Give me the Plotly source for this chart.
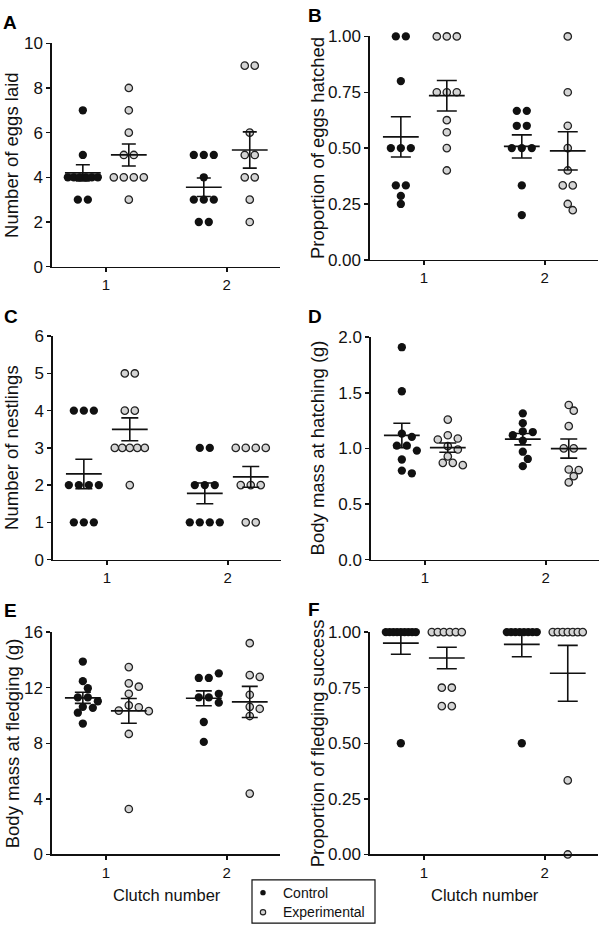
import numpy as np
import plotly.graph_objects as go

W, H = 600, 935

# ---------------- data ----------------
clutch = [1, 2]
xtick_labels = ["1", "2"]

# A: Number of eggs laid
A_ctrl_1 = [7, 5, 4, 4, 4, 4, 4, 4, 3, 3]
A_exp_1 = [8, 7, 6, 5, 5, 4, 4, 4, 4, 3]
A_ctrl_2 = [5, 5, 5, 4, 3, 3, 3, 2, 2]
A_exp_2 = [9, 9, 6, 5, 5, 4, 4, 3, 2]

# B: Proportion of eggs hatched
B_ctrl_1 = [1, 1, 0.8, 0.5, 0.5, 0.5, 0.333, 0.333, 0.286, 0.25]
B_exp_1 = [1, 1, 1, 0.75, 0.75, 0.75, 0.625, 0.571, 0.5, 0.4]
B_ctrl_2 = [0.667, 0.667, 0.6, 0.6, 0.5, 0.5, 0.5, 0.333, 0.2]
B_exp_2 = [1, 0.75, 0.6, 0.5, 0.4, 0.333, 0.333, 0.25, 0.222]

# C: Number of nestlings
C_ctrl_1 = [4, 4, 4, 2, 2, 2, 2, 1, 1, 1]
C_exp_1 = [5, 5, 4, 4, 3, 3, 3, 3, 3, 2]
C_ctrl_2 = [3, 3, 2, 2, 2, 1, 1, 1, 1]
C_exp_2 = [3, 3, 3, 3, 2, 2, 2, 1, 1]

# D: Body mass at hatching (g)
D_ctrl_1 = [1.91, 1.514, 1.133, 1.104, 1.025, 1.025, 0.98, 0.90, 0.80, 0.776]
D_exp_1 = [1.259, 1.118, 1.089, 1.08, 1.02, 0.99, 0.928, 0.87, 0.87, 0.849]
D_ctrl_2 = [1.315, 1.227, 1.153, 1.147, 1.118, 1.07, 0.97, 0.905, 0.84]
D_exp_2 = [1.39, 1.339, 1.2, 1.0, 1.0, 0.81, 0.805, 0.75, 0.694]

# E: Body mass at fledging (g)
E_ctrl_1 = [13.88, 12.47, 11.96, 11.3, 11.3, 11.02, 10.62, 10.55, 10.2, 9.42]
E_exp_1 = [13.48, 12.31, 12.07, 11.56, 10.73, 10.59, 10.35, 10.31, 8.67, 3.27]
E_ctrl_2 = [13.03, 12.7, 12.7, 11.56, 11.3, 11.3, 10.92, 9.53, 8.1]
E_exp_2 = [15.2, 12.9, 12.78, 11.49, 10.62, 10.48, 9.96, 4.38]

# F: Proportion of fledging success
F_ctrl_1 = [1, 1, 1, 1, 1, 1, 1, 1, 1, 0.5]
F_exp_1 = [1, 1, 1, 1, 1, 1, 0.75, 0.75, 0.667, 0.667]
F_ctrl_2 = [1, 1, 1, 1, 1, 1, 1, 1, 0.5]
F_exp_2 = [1, 1, 1, 1, 1, 1, 1, 0.333, 0]

# tick labels
A_ticks = [0, 2, 4, 6, 8, 10]
B_ticks = [0, 0.25, 0.5, 0.75, 1.0]
C_ticks = [0, 1, 2, 3, 4, 5, 6]
D_ticks = [0, 0.5, 1.0, 1.5, 2.0]
E_ticks = [0, 4, 8, 12, 16]
F_ticks = [0, 0.25, 0.5, 0.75, 1.0]

legend_names = ["Control", "Experimental"]

panels = [
    dict(letter="A", title="Number of eggs laid", ticks=A_ticks, fmt="d",
         ctrl=[A_ctrl_1, A_ctrl_2], exp=[A_exp_1, A_exp_2]),
    dict(letter="B", title="Proportion of eggs hatched", ticks=B_ticks, fmt=".2f",
         ctrl=[B_ctrl_1, B_ctrl_2], exp=[B_exp_1, B_exp_2]),
    dict(letter="C", title="Number of nestlings", ticks=C_ticks, fmt="d",
         ctrl=[C_ctrl_1, C_ctrl_2], exp=[C_exp_1, C_exp_2]),
    dict(letter="D", title="Body mass at hatching (g)", ticks=D_ticks, fmt=".1f",
         ctrl=[D_ctrl_1, D_ctrl_2], exp=[D_exp_1, D_exp_2]),
    dict(letter="E", title="Body mass at fledging (g)", ticks=E_ticks, fmt="d",
         ctrl=[E_ctrl_1, E_ctrl_2], exp=[E_exp_1, E_exp_2]),
    dict(letter="F", title="Proportion of fledging success", ticks=F_ticks, fmt=".2f",
         ctrl=[F_ctrl_1, F_ctrl_2], exp=[F_exp_1, F_exp_2]),
]

# ---------------- layout geometry (pixels) ----------------
boxes = [  # (left, right, top, bottom) of each plot area
    (52, 280, 35, 263),
    (370, 598, 28, 256),
    (53, 281, 334, 562),
    (371, 599, 335, 562),
    (52, 280, 636, 863),
    (370, 598, 636, 863),
]
cap_w = [7, 10, 8.5, 8.5, 8, 10]
letter_pos = [(1, 14), (306, 7), (2, 314), (306, 314), (2, 614), (306, 613)]
XR = [0.555, 2.44]
OFF = 0.19
FONT = "Liberation Sans, Arial, Helvetica, sans-serif"
BLACK = "#111111"
GREY = "#d4d4d4"


def px_x(x):
    return x / W


def px_y(y):
    return 1 - y / H


def swarm(vals, yppu, xppu, sp=10.0, maxw=30.0, diam=7.5):
    """Horizontal offsets (data units) so that points do not overlap."""
    vals = np.asarray(vals, float)
    n = len(vals)
    off = np.full(n, np.nan)
    keys = np.round(vals, 4)
    uniq, counts = np.unique(keys, return_counts=True)
    for u, k in zip(uniq, counts):
        if k > 1:
            idx = np.where(keys == u)[0]
            s = min(sp, maxw / (k - 1))
            for j, i in enumerate(idx):
                off[i] = (j - (k - 1) / 2) * s
    order = np.argsort(-vals, kind="stable")
    for i in order:
        if not np.isnan(off[i]):
            continue
        py = vals[i] * yppu
        placed = [(off[j], vals[j] * yppu) for j in range(n) if not np.isnan(off[j])]
        best = None
        for m in range(0, 40):
            for sgn in ([1] if m == 0 else [1, -1]):
                x = sgn * m * sp / 2
                if all((x - a) ** 2 + (py - b) ** 2 >= diam ** 2 for a, b in placed):
                    best = x
                    break
            if best is not None:
                break
        off[i] = best
    return off / xppu


fig = go.Figure()
annotations = []
shapes = []

for pi, p in enumerate(panels):
    l, r, t, b = boxes[pi]
    xa = "x" if pi == 0 else f"x{pi + 1}"
    ya = "y" if pi == 0 else f"y{pi + 1}"
    ymax = p["ticks"][-1]
    yppu = (b - t) / ymax
    xppu = (r - l) / (XR[1] - XR[0])

    for gi, (grp, sign, face, edge, lw, sz) in enumerate([
        ("ctrl", -1, BLACK, BLACK, 0, 8.3),
        ("exp", 1, GREY, "#222222", 1.3, 7.4),
    ]):
        xs, ys = [], []
        mx, my, me = [], [], []
        for ci, c in enumerate(clutch):
            vals = np.asarray(p[grp][ci], float)
            offs = swarm(vals, yppu, xppu)
            xs += list(c + sign * OFF + offs)
            ys += list(vals)
            mx.append(c + sign * OFF)
            my.append(vals.mean())
            me.append(vals.std(ddof=1) / np.sqrt(len(vals)))
        fig.add_trace(go.Scatter(
            x=xs, y=ys, mode="markers", xaxis=xa, yaxis=ya, showlegend=False,
            name=legend_names[gi], cliponaxis=False,
            marker=dict(size=sz, color=face, line=dict(color=edge, width=lw)),
        ))
        fig.add_trace(go.Scatter(
            x=mx, y=my, mode="markers", xaxis=xa, yaxis=ya, showlegend=False,
            name=legend_names[gi] + " mean ± SEM", cliponaxis=False,
            marker=dict(size=1, opacity=0),
            error_x=dict(type="constant", value=0.148, width=0, thickness=1.7, color=BLACK),
            error_y=dict(type="data", array=me, width=cap_w[pi], thickness=1.6, color=BLACK),
        ))

    ticktext = [format(v, p["fmt"]) if p["fmt"] != "d" else str(int(v)) for v in p["ticks"]]
    axis_common = dict(showline=True, linecolor=BLACK, linewidth=1.6, ticks="outside",
                       ticklen=4, tickwidth=1.5, tickcolor=BLACK, showgrid=False,
                       zeroline=False, fixedrange=True)
    fig.layout[("xaxis" if pi == 0 else f"xaxis{pi + 1}")] = dict(
        domain=[px_x(l), px_x(r)], anchor=ya, range=XR, tickvals=clutch,
        ticktext=xtick_labels, tickfont=dict(size=15, color=BLACK, family=FONT),
        **axis_common)
    fig.layout[("yaxis" if pi == 0 else f"yaxis{pi + 1}")] = dict(
        domain=[px_y(b), px_y(t)], anchor=xa, range=[0, ymax], tickvals=p["ticks"],
        ticktext=ticktext, tickfont=dict(size=17, color=BLACK, family=FONT),
        **axis_common)

    lx, ly = letter_pos[pi]
    annotations.append(dict(text=f"<b>{p['letter']}</b>", x=px_x(lx), y=px_y(ly),
                            xref="paper", yref="paper", xanchor="left", yanchor="middle",
                            showarrow=False, font=dict(size=19, color="black", family=FONT)))
    tx = 12 if l < 200 else 317
    annotations.append(dict(text=p["title"], x=px_x(tx), y=px_y((t + b) / 2),
                            xref="paper", yref="paper", xanchor="center", yanchor="middle",
                            textangle=-90, showarrow=False,
                            font=dict(size=18.5, color=BLACK, family=FONT)))
    if pi >= 4:
        annotations.append(dict(text="Clutch number", x=px_x((l + r) / 2 + 1), y=px_y(904),
                                xref="paper", yref="paper", xanchor="center", yanchor="middle",
                                showarrow=False, font=dict(size=16.5, color=BLACK, family=FONT)))

# legend box
shapes.append(dict(type="rect", xref="paper", yref="paper", x0=px_x(252), x1=px_x(375),
                   y0=px_y(933), y1=px_y(889), line=dict(color=BLACK, width=1.2),
                   fillcolor="white"))
for yy, face, lw in [(902, BLACK, 0.1), (922, GREY, 1.1)]:
    shapes.append(dict(type="circle", xref="paper", yref="paper",
                       x0=px_x(260.3), x1=px_x(265.7), y0=px_y(yy + 2.7), y1=px_y(yy - 2.7),
                       fillcolor=face, line=dict(color="#222222", width=lw)))
for yy, txt in zip([902, 922], legend_names):
    annotations.append(dict(text=txt, x=px_x(281), y=px_y(yy), xref="paper", yref="paper",
                            xanchor="left", yanchor="middle", showarrow=False,
                            font=dict(size=14, color=BLACK, family=FONT)))

fig.update_layout(
    width=W, height=H, margin=dict(l=0, r=0, t=0, b=0),
    paper_bgcolor="white", plot_bgcolor="white",
    annotations=annotations, shapes=shapes, showlegend=False,
    font=dict(family=FONT, color=BLACK),
)

# remove the browser's default 8px page margin so the 600x935 figure fills the window
fig.write_html("out.html",
               config={"displayModeBar": False, "staticPlot": True},
               post_script="document.body.style.margin='0';"
                           "document.documentElement.style.overflow='hidden';")
